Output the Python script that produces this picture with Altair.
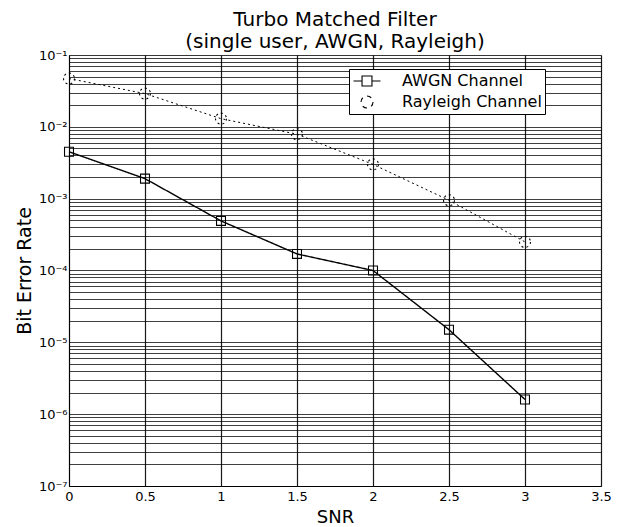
import altair as alt
import pandas as pd

# ---- data ----
snr = [0, 0.5, 1, 1.5, 2, 2.5, 3]
awgn_ber = [4.5e-3, 1.9e-3, 4.9e-4, 1.7e-4, 1.0e-4, 1.5e-5, 1.6e-6]
rayleigh_ber = [4.7e-2, 2.9e-2, 1.3e-2, 7.9e-3, 3.0e-3, 9.5e-4, 2.5e-4]
series_names = ["AWGN Channel", "Rayleigh Channel"]

x_ticks = [0, 0.5, 1, 1.5, 2, 2.5, 3, 3.5]
x_tick_labels = ["0", "0.5", "1", "1.5", "2", "2.5", "3", "3.5"]
y_decades = [1e-7, 1e-6, 1e-5, 1e-4, 1e-3, 1e-2, 1e-1]
y_decade_labels = ["10⁻⁷", "10⁻⁶", "10⁻⁵", "10⁻⁴", "10⁻³", "10⁻²", "10⁻¹"]
minor_multipliers = [1, 2, 3, 4, 5, 6, 7, 8, 9]

title_lines = ["Turbo Matched Filter", "(single user, AWGN, Rayleigh)"]

rows = []
for name, vals in zip(series_names, [awgn_ber, rayleigh_ber]):
    for s, v in zip(snr, vals):
        rows.append({"snr": s, "ber": v, "series": name})
df = pd.DataFrame(rows)

y_grid_values = [m * d for d in y_decades[:-1] for m in minor_multipliers] + [y_decades[-1]]

y_label_expr = " : ".join(
    f"datum.value == {v!r} ? '{lab}'" for v, lab in zip(y_decades, y_decade_labels)
) + " : ''"
x_label_expr = " : ".join(
    f"datum.value == {v!r} ? '{lab}'" for v, lab in zip(x_ticks, x_tick_labels)
) + " : ''"

FONT = "DejaVu Sans"

x_enc = alt.X(
    "snr:Q",
    scale=alt.Scale(domain=[0, 3.5], nice=False, zero=False),
    axis=alt.Axis(
        values=x_ticks, labelExpr=x_label_expr, title="SNR",
        grid=True, gridColor="black", gridWidth=1.2, gridOpacity=0.9,
        ticks=False, labelPadding=4, labelFontSize=13, labelFont=FONT,
        labelColor="black", titleFont=FONT, titleFontSize=18,
        titleFontWeight="normal", titleColor="black", titlePadding=5,
        domainColor="black", labelFlush=False,
    ),
)
y_enc = alt.Y(
    "ber:Q",
    scale=alt.Scale(type="log", domain=[1e-7, 1e-1], nice=False),
    axis=alt.Axis(
        values=y_grid_values, labelExpr=y_label_expr, title="Bit Error Rate",
        grid=True, gridColor="black", gridWidth=1, gridOpacity=0.75,
        ticks=False, labelPadding=2, labelFontSize=13, labelFont=FONT,
        labelColor="black", labelBaseline="middle", titleFont=FONT,
        titleFontSize=19, titleFontWeight="normal", titleColor="black",
        titlePadding=4, domainColor="black", labelFlush=False,
        labelOverlap=False,
    ),
)

dash_scale = alt.Scale(domain=series_names, range=[[1, 0], [2, 3]])

lines = alt.Chart(df).mark_line(color="black").encode(
    x=x_enc,
    y=y_enc,
    strokeDash=alt.StrokeDash("series:N", scale=dash_scale, legend=None),
    strokeWidth=alt.StrokeWidth(
        "series:N", scale=alt.Scale(domain=series_names, range=[1.4, 1.0]), legend=None
    ),
    detail="series:N",
)

points = alt.Chart(df).mark_point(color="black", filled=False, strokeWidth=1.1, opacity=1).encode(
    x=x_enc,
    y=y_enc,
    shape=alt.Shape(
        "series:N",
        scale=alt.Scale(domain=series_names, range=["square", "circle"]),
        legend=None,
    ),
    size=alt.Size(
        "series:N", scale=alt.Scale(domain=series_names, range=[80, 120]), legend=None
    ),
    strokeDash=alt.StrokeDash("series:N", scale=dash_scale, legend=None),
)

# legend symbols: line stub + marker (custom SVG paths, unit = 8 px)
awgn_symbol = "M-1.69,0H-0.62M0.62,0H1.69M-0.62,-0.62H0.62V0.62H-0.62Z"
rayleigh_symbol = (
    "M0.75,0A0.75,0.75 0 0,1 0.53,0.53"
    "M0,0.75A0.75,0.75 0 0,1 -0.53,0.53"
    "M-0.75,0A0.75,0.75 0 0,1 -0.53,-0.53"
    "M0,-0.75A0.75,0.75 0 0,1 0.53,-0.53"
)

legend_layer = alt.Chart(df).transform_filter("false").mark_point(
    color="black", filled=False
).encode(
    x=x_enc,
    y=y_enc,
    shape=alt.Shape(
        "series:N",
        scale=alt.Scale(domain=series_names, range=[awgn_symbol, rayleigh_symbol]),
        legend=alt.Legend(
            title=None, orient="none", legendX=280, legendY=14,
            strokeColor="black", fillColor="white", padding=3,
            symbolSize=256, symbolOffset=6, symbolStrokeWidth=1.1,
            symbolStrokeColor="black", labelFont=FONT, labelFontSize=16,
            labelColor="black", labelOffset=26, rowPadding=4, symbolOpacity=1,
        ),
    ),
)

chart = (
    alt.layer(lines, points, legend_layer)
    .resolve_scale(shape="independent")
    .properties(
        width=532,
        height=431,
        title=alt.TitleParams(
            text=title_lines, font=FONT, fontSize=20, fontWeight="normal",
            color="black", anchor="middle", lineHeight=22, offset=0, dy=3,
        ),
        padding={"left": 69, "top": 55, "right": 28, "bottom": 41},
        autosize=alt.AutoSizeParams(type="none"),
    )
    .configure_view(stroke="black", strokeWidth=1.2)
    .configure(background="white")
)

chart.save("out.html", embed_options={"renderer": "svg", "actions": False})
